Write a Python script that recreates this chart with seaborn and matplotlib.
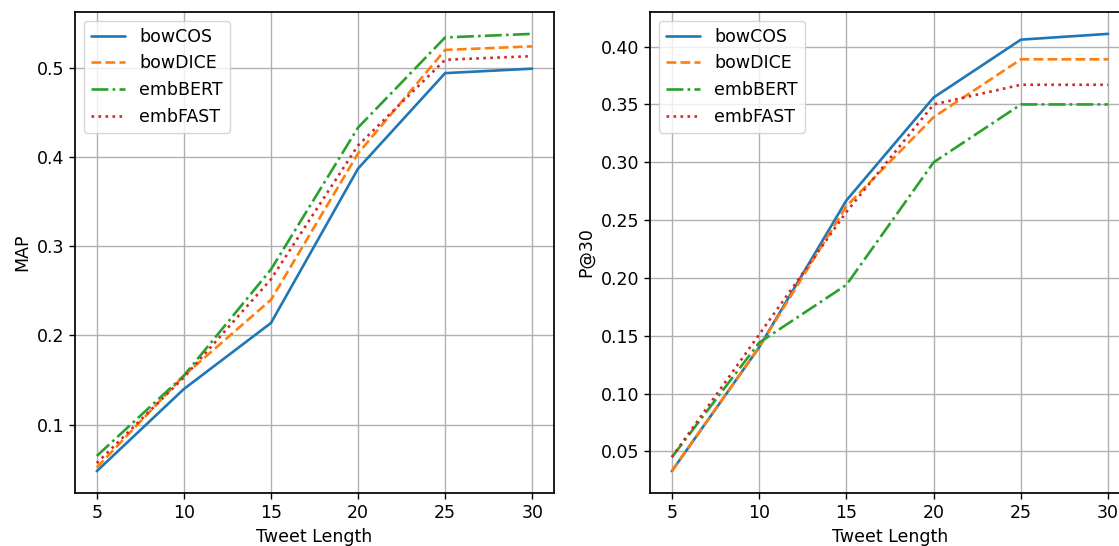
import matplotlib
matplotlib.use("Agg")
import matplotlib.pyplot as plt
import seaborn as sns
import pandas as pd

tweet_length = [5, 10, 15, 20, 25, 30]
series_names = ["bowCOS", "bowDICE", "embBERT", "embFAST"]

map_bowCOS = [0.048, 0.140, 0.214, 0.387, 0.494, 0.499]
map_bowDICE = [0.052, 0.155, 0.240, 0.404, 0.520, 0.524]
map_embBERT = [0.065, 0.155, 0.274, 0.433, 0.534, 0.538]
map_embFAST = [0.057, 0.153, 0.263, 0.413, 0.509, 0.513]

p30_bowCOS = [0.033, 0.140, 0.267, 0.356, 0.406, 0.411]
p30_bowDICE = [0.033, 0.140, 0.262, 0.339, 0.389, 0.389]
p30_embBERT = [0.045, 0.144, 0.194, 0.300, 0.350, 0.350]
p30_embFAST = [0.045, 0.151, 0.257, 0.350, 0.367, 0.367]

sns.set_style("ticks")
plt.rcParams.update({
    "font.family": ["DejaVu Sans"],
    "font.size": 12.5,
    "axes.grid": True,
    "grid.color": "#b0b0b0",
    "grid.linewidth": 1.0,
    "axes.edgecolor": "black",
    "axes.linewidth": 1.25,
    "xtick.color": "black",
    "ytick.color": "black",
    "axes.labelcolor": "black",
    "text.color": "black",
    "xtick.direction": "out",
    "ytick.direction": "out",
    "xtick.major.size": 4.4,
    "ytick.major.size": 4.4,
    "xtick.major.width": 1.0,
    "ytick.major.width": 1.0,
    "legend.fancybox": True,
    "legend.framealpha": 0.8,
    "legend.edgecolor": "0.8",
})

colors = ["#1f77b4", "#ff7f0e", "#2ca02c", "#d62728"]
styles = ["-", "--", "-.", ":"]

W, H = 1119, 546
fig = plt.figure(figsize=(W / 100, H / 100), dpi=100)
ax1 = fig.add_axes([75 / W, 1 - 493 / H, 479 / W, 481 / H])
ax2 = fig.add_axes([650 / W, 1 - 493 / H, 480 / W, 481 / H])

left_data = [map_bowCOS, map_bowDICE, map_embBERT, map_embFAST]
right_data = [p30_bowCOS, p30_bowDICE, p30_embBERT, p30_embFAST]

for ax, data, ylabel in [(ax1, left_data, "MAP"), (ax2, right_data, "P@30")]:
    for name, vals, c, ls in zip(series_names, data, colors, styles):
        df = pd.DataFrame({"Tweet Length": tweet_length, "v": vals})
        sns.lineplot(data=df, x="Tweet Length", y="v", ax=ax, color=c,
                     linestyle=ls, linewidth=1.9, label=name)
    ax.set_xlabel("Tweet Length")
    ax.set_ylabel(ylabel)
    ax.set_xticks(tweet_length)
    ax.grid(True, color="#b0b0b0", linewidth=1.0)
    ax.legend(loc="upper left")
    for s in ax.spines.values():
        s.set_visible(True)
        s.set_color("black")

ax2.set_yticks([0.05, 0.10, 0.15, 0.20, 0.25, 0.30, 0.35, 0.40])
ax2.yaxis.set_major_formatter(matplotlib.ticker.FormatStrFormatter("%.2f"))
ax1.set_yticks([0.1, 0.2, 0.3, 0.4, 0.5])

fig.savefig("out.png", dpi=100)
